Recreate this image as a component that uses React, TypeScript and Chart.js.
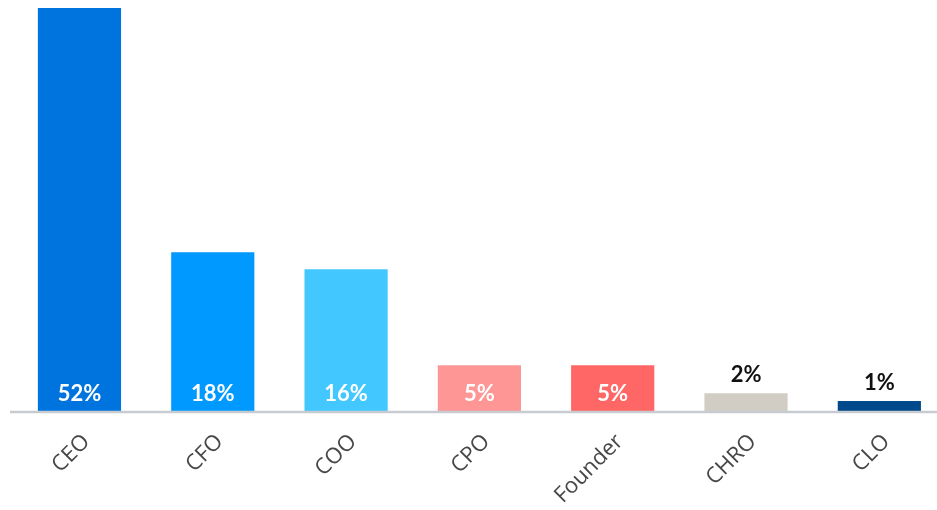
import React, { useEffect, useRef } from "react";
import { Chart, registerables } from "chart.js";

Chart.register(...registerables);

const categories = ["CEO", "CFO", "COO", "CPO", "Founder", "CHRO", "CLO"];
const barHeights = [52, 20.5, 18.3, 5.9, 5.9, 2.3, 1.3];
const valueLabels = ["52%", "18%", "16%", "5%", "5%", "2%", "1%"];
const barColors = ["#0074de", "#0099ff", "#42c8ff", "#ff9696", "#ff6666", "#d1ccc4", "#004a8c"];
const labelInside = [true, true, true, true, true, false, false];

const FONT = "Lato, 'Open Sans', sans-serif";
const TICK_FONT = "'Open Sans', Lato, sans-serif";

const valueLabelPlugin = {
  id: "valueLabels",
  afterDatasetsDraw(chart: any) {
    const ctx = chart.ctx;
    const meta = chart.getDatasetMeta(0);
    ctx.save();
    ctx.font = `bold 22px ${FONT}`;
    ctx.textAlign = "center";
    meta.data.forEach((bar: any, i: number) => {
      const base = bar.base;
      ctx.textBaseline = "alphabetic";
      if (labelInside[i]) {
        ctx.fillStyle = "#ffffff";
        ctx.fillText(valueLabels[i], bar.x, base - 10);
      } else {
        ctx.fillStyle = "#111111";
        ctx.fillText(valueLabels[i], bar.x, bar.y - 11);
      }
    });
    ctx.restore();
  },
};

const axisLinePlugin = {
  id: "axisLine",
  afterDatasetsDraw(chart: any) {
    const ctx = chart.ctx;
    const y = chart.chartArea.bottom;
    ctx.save();
    ctx.strokeStyle = "#c8cbcf";
    ctx.lineWidth = 2.5;
    ctx.beginPath();
    ctx.moveTo(10, y + 1);
    ctx.lineTo(chart.width, y + 1);
    ctx.stroke();
    ctx.restore();
  },
};

export default function App() {
  const canvasRef = useRef<HTMLCanvasElement>(null);
  useEffect(() => {
    if (!canvasRef.current) return;
    const chart = new Chart(canvasRef.current, {
      type: "bar",
      data: {
        labels: categories,
        datasets: [
          {
            data: barHeights,
            backgroundColor: barColors,
            borderWidth: 0,
            barPercentage: 1,
            categoryPercentage: 0.624,
          },
        ],
      },
      plugins: [valueLabelPlugin, axisLinePlugin],
      options: {
        responsive: false,
        animation: false,
        layout: { padding: { left: 12.8, right: 14, top: 8, bottom: 0 } },
        plugins: { legend: { display: false }, tooltip: { enabled: false } },
        scales: {
          y: { display: false, min: 0, max: 52 },
          x: {
            grid: { display: false },
            border: { display: false },
            ticks: {
              color: "#474747",
              font: { family: TICK_FONT, size: 22 },
              minRotation: 45,
              maxRotation: 45,
              autoSkip: false,
              padding: 10,
              labelOffset: 7,
            },
            afterFit: (scale: any) => {
              scale.height = 99;
            },
          },
        },
      },
    });
    return () => chart.destroy();
  }, []);
  return (
    <div style={{ position: "fixed", left: 0, top: 0, width: 937, height: 510, overflow: "hidden", background: "#fff" }}>
      <canvas ref={canvasRef} width={960} height={510} style={{ width: 960, height: 510, display: "block" }} />
    </div>
  );
}
